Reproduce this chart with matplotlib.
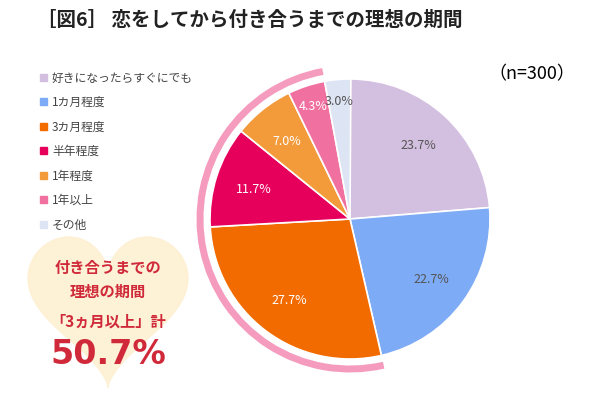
import numpy as np
import matplotlib.pyplot as plt
from matplotlib.patches import Wedge, Arc, Polygon

plt.rcParams["font.family"] = "Noto Sans CJK JP"

labels = ["好きになったらすぐにでも", "1カ月程度", "3カ月程度", "半年程度", "1年程度", "1年以上", "その他"]
values = [23.7, 22.7, 27.7, 11.7, 7.0, 4.3, 3.0]
colors = ["#d3bfe0", "#7eabf5", "#f26b00", "#e6005c", "#f39a3a", "#f0709f", "#dde4f3"]
highlight = [2, 3, 4, 5]  # 3カ月以上

fig = plt.figure(figsize=(6.15, 4.02), dpi=100)
fig.text(0.06, 0.95, "［図6］ 恋をしてから付き合うまでの理想の期間", fontsize=14, fontweight="bold",
         va="center", ha="left", color="#222222")
fig.text(0.935, 0.815, "（n=300）", fontsize=13, ha="right", va="center")

# legend
for i, (lab, c) in enumerate(zip(labels, colors)):
    y = 1 - (78 + i * 24.5) / 402
    fig.patches.append(plt.Rectangle((40 / 615, y - 0.009), 7 / 615, 7 / 402, color=c, transform=fig.transFigure))
    fig.text(52 / 615, y, lab, fontsize=8.5, va="center", color="#444444")

# heart callout
hax = fig.add_axes([0, 0, 1, 1], zorder=0)
hax.set_xlim(0, 615)
hax.set_ylim(402, 0)
hax.axis("off")
t = np.linspace(0, 2 * np.pi, 200)
hx = 16 * np.sin(t) ** 3
hy = 13 * np.cos(t) - 5 * np.cos(2 * t) - 2 * np.cos(3 * t) - np.cos(4 * t)
hax.add_patch(Polygon(np.c_[108 + hx * 5.0, 300 - hy * 5.2], color="#fdf0d2", alpha=0.9))
hax.text(108, 268, "付き合うまでの", fontsize=11, fontweight="bold", color="#d02a3a", ha="center", va="center")
hax.text(108, 292, "理想の期間", fontsize=11, fontweight="bold", color="#d02a3a", ha="center", va="center")
hax.text(108, 322, "「3ヵ月以上」計", fontsize=11, fontweight="bold", color="#d02a3a", ha="center", va="center")
hax.text(108, 355, "50.7%", fontsize=24, fontweight="bold", color="#d02a3a", ha="center", va="center",
         fontfamily="DejaVu Sans")

# pie
ax = fig.add_axes([(350 - 175) / 615, (402 - 220 - 175) / 402, 350 / 615, 350 / 402], zorder=1)
ax.set_xlim(-175, 175)
ax.set_ylim(-175, 175)
ax.set_aspect("equal")
ax.axis("off")
R = 140
start = 90.0
angles = []
for v, c in zip(values, colors):
    sweep = v / 100 * 360
    ax.add_patch(Wedge((0, 0), R, start - sweep, start, facecolor=c, edgecolor="white", linewidth=1.2))
    angles.append((start - sweep, start))
    mid = np.radians(start - sweep / 2)
    r_lab = 0.72 * R if v > 5 else 0.85 * R
    tc = "#555555" if c in ("#d3bfe0", "#7eabf5", "#dde4f3") else "white"
    ax.text(r_lab * np.cos(mid), r_lab * np.sin(mid), f"{v:.1f}%", fontsize=9, ha="center", va="center", color=tc)
    start -= sweep

a0 = angles[highlight[-1]][0]
a1 = angles[highlight[0]][1]
ax.add_patch(Arc((0, 0), 2 * (R + 10), 2 * (R + 10), theta1=a0, theta2=a1, color="#f59bbd", linewidth=5))

fig.savefig("out.png", dpi=100)
